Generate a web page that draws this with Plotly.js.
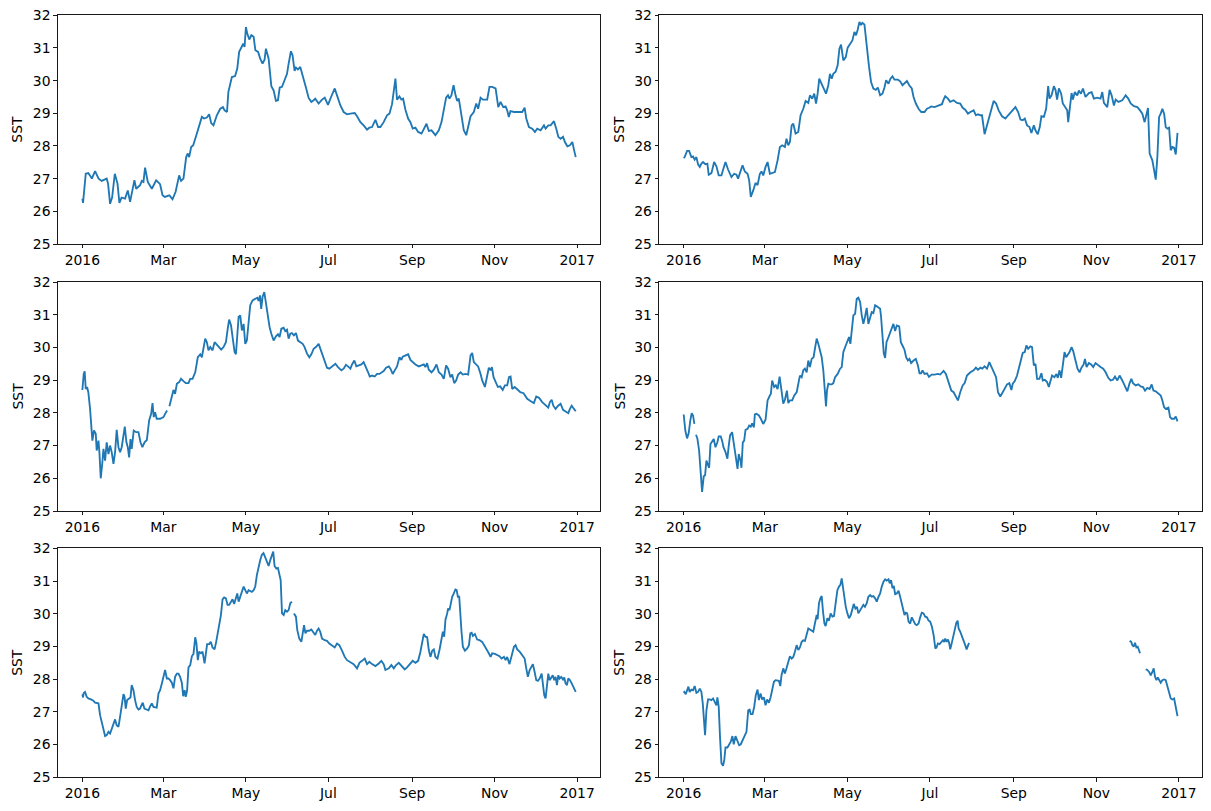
<!DOCTYPE html>
<html>
<head>
<meta charset="utf-8">
<script src="https://cdn.plot.ly/plotly-3.0.1.min.js"></script>
<style>html,body{margin:0;padding:0;background:#fff;}#chart{width:1211px;height:811px;}</style>
</head>
<body>
<div id="chart"></div>
<script>
// Tick labels for the date axes
const tickLabels = ['2016', 'Mar', 'May', 'Jul', 'Sep', 'Nov', '2017'];
const yTicks = [25, 26, 27, 28, 29, 30, 31, 32];
const yLabel = 'SST';

// Observations per panel: [day of year 2016 (0 = Jan 1), SST]; null = missing data
const obs1 = [[0,26.39],[0.5,26.26],[2.5,27.15],[4.4,27.17],[5.6,27.1],[7,27.0],[9.4,27.23],[12,27.0],[14.3,26.93],[18,27.0],[19,26.85],[20.5,26.23],[22,26.42],[24,27.15],[26,26.85],[27.4,26.26],[29,26.42],[31.6,26.39],[33.6,26.64],[35.3,26.29],[37,26.64],[38.5,26.95],[39.8,26.69],[42.7,26.8],[44,26.93],[45.2,26.9],[46.4,27.34],[48.4,26.9],[51.4,26.69],[54.6,26.95],[57.5,26.83],[59.3,26.49],[61,26.44],[64.4,26.49],[66.7,26.37],[69,26.6],[71.6,27.1],[73,26.93],[74.8,27.0],[76.8,27.66],[78,27.77],[79,27.66],[80.5,27.97],[82,28.02],[84.7,28.38],[87,28.68],[88.4,28.89],[90,28.84],[92.1,28.87],[93.8,28.97],[95.3,28.7],[97,28.63],[99.5,28.94],[102,29.14],[104,29.19],[105.2,29.09],[107,29.04],[108,29.65],[110.6,30.11],[113,30.14],[114.6,30.37],[116,30.88],[118,31.03],[119,31.13],[120,31.03],[121,31.64],[122,31.44],[123.5,31.26],[125,31.39],[126.7,31.34],[128,30.93],[130,30.88],[131.6,30.67],[133.3,30.52],[134.8,30.64],[135.8,30.98],[137.8,30.67],[139.8,29.83],[141.5,29.7],[143.2,29.38],[144.7,29.4],[146,29.79],[147.7,29.81],[149.6,30.01],[151.4,30.21],[152.6,30.52],[154.3,30.9],[155.5,30.78],[157,30.3],[158,30.4],[159.5,30.34],[161.2,30.42],[163.7,29.99],[165.4,29.79],[167.4,29.47],[169.4,29.35],[171.1,29.4],[172.3,29.45],[174.8,29.3],[177.3,29.42],[179.3,29.48],[181.7,29.26],[184,29.5],[186.7,29.76],[188.4,29.55],[190.9,29.24],[193.3,29.04],[195.8,28.97],[198.3,28.99],[201.5,29.01],[203.2,28.91],[205.7,28.73],[208.1,28.63],[210.6,28.5],[212.3,28.56],[214.3,28.58],[216.8,28.8],[218.8,28.58],[220.5,28.58],[222.9,28.73],[225.4,28.94],[227.2,28.99],[229.1,29.28],[230.4,29.7],[231.6,30.06],[232.8,29.42],[234.6,29.52],[236,29.42],[237.3,29.45],[239,29.11],[241,28.84],[242.7,28.73],[244.4,28.53],[246.4,28.56],[248.4,28.43],[250.9,28.38],[252.6,28.53],[254.6,28.68],[256.3,28.46],[258.3,28.48],[261.2,28.33],[263.7,28.48],[265.7,28.73],[267.4,29.09],[269.1,29.48],[270.5,29.55],[271.6,29.45],[273,29.55],[274.6,29.86],[276.1,29.55],[277.3,29.38],[278.5,29.45],[280.5,28.89],[282.2,28.48],[284,28.33],[285.9,28.68],[287.2,28.91],[289.6,29.04],[291.4,29.3],[292.8,29.14],[294.6,29.48],[296.3,29.42],[299.5,29.42],[301.2,29.81],[303.2,29.81],[305.7,29.76],[307,29.45],[307.7,29.19],[309.4,29.35],[311.4,29.19],[313.1,29.21],[314.3,29.09],[315.5,28.89],[316.7,29.07],[319.3,29.04],[323,29.04],[325.4,29.04],[327.2,29.17],[328.4,28.84],[330.4,28.58],[332.8,28.53],[334.8,28.43],[336.5,28.53],[339,28.48],[341.5,28.63],[342.7,28.53],[344.7,28.63],[346.4,28.63],[348.9,28.76],[350.6,28.53],[352.1,28.28],[353.8,28.22],[355.6,28.28],[357,28.12],[358.8,27.99],[360.7,28.02],[362.5,28.12],[363.7,27.89],[365,27.66]];

const obs2 = [[0,27.63],[0.7,27.66],[2.5,27.85],[4,27.85],[5.7,27.66],[6.9,27.68],[8.1,27.58],[9.4,27.66],[10.6,27.44],[11.9,27.36],[13.1,27.46],[14.3,27.51],[16,27.44],[17.5,27.46],[18.5,27.12],[20.5,27.17],[22.5,27.51],[24.2,27.38],[25.9,27.1],[27.9,27.1],[29,27.26],[30.9,27.51],[32.8,27.28],[35.3,27.05],[37.3,27.15],[39,27.12],[40.2,27.0],[42,27.2],[43.5,27.41],[45.2,27.22],[47.2,27.15],[48.4,26.95],[49.6,26.44],[51.4,26.64],[53.1,26.87],[54.6,26.8],[56.3,27.15],[57.5,27.22],[58.8,27.1],[60.5,27.36],[62,27.51],[63.7,27.15],[65.4,27.17],[67.4,27.2],[69.4,27.56],[71.1,27.97],[72.8,28.02],[74.8,27.97],[76,28.22],[77.3,28.02],[78.5,28.12],[79.8,28.63],[81,28.68],[82.7,28.38],[84.7,28.43],[86.4,28.94],[88.4,29.14],[90.1,29.38],[92.1,29.32],[93.3,29.55],[95,29.45],[96.5,29.6],[97.8,29.3],[99,29.6],[100.2,30.06],[102,29.91],[103.2,29.79],[105.2,29.6],[106.9,29.86],[108.1,30.21],[109.4,30.06],[110.6,30.21],[112.3,30.27],[113.8,30.47],[115.1,30.98],[116.3,31.1],[118,30.62],[119.8,30.72],[121.2,31.01],[123,31.13],[124.7,31.23],[126.2,31.49],[127.4,31.39],[128.6,31.56],[129.9,31.8],[131,31.7],[132,31.77],[133.6,31.72],[135.3,31.03],[137,30.42],[138.5,29.96],[140.2,29.76],[142,29.72],[143.5,29.79],[145.2,29.55],[146.9,29.6],[148.4,29.79],[149.6,30.01],[151.4,29.91],[152.8,30.06],[154.3,30.13],[155.8,30.03],[158.3,30.03],[160,29.98],[161.7,29.86],[163.2,29.93],[165,29.99],[166.7,29.86],[168.6,29.76],[169.9,29.5],[171.6,29.3],[173.6,29.14],[175.6,29.04],[178,29.04],[179.8,29.14],[181.5,29.17],[183,29.21],[185.4,29.19],[187.9,29.24],[190.9,29.28],[192.1,29.42],[193.3,29.52],[195.3,29.45],[197,29.35],[199.5,29.4],[202,29.32],[204.4,29.3],[206.2,29.17],[208.1,29.11],[210.1,28.99],[211.9,29.04],[214.3,29.09],[216,28.94],[217.5,28.97],[219.3,28.94],[220.5,28.94],[222.4,28.36],[224.2,28.63],[226.7,28.99],[229.1,29.38],[230.9,29.3],[232.8,29.09],[235.3,28.91],[237.8,28.84],[239.8,28.94],[242.2,29.04],[245.2,29.19],[247.2,29.04],[248.9,28.81],[250.6,28.79],[252.1,28.84],[253.8,28.63],[255.6,28.58],[257,28.4],[258.8,28.63],[260,28.48],[261.7,28.36],[263.2,28.58],[264.4,28.91],[266.2,28.89],[267.9,29.14],[269.4,29.83],[270.4,29.45],[271.9,29.55],[273.6,29.83],[274.8,29.72],[276,29.42],[277.3,29.76],[279,29.6],[280.2,29.3],[281.7,29.19],[283.5,29.09],[284.2,28.73],[285.2,29.09],[286.7,29.62],[287.7,29.42],[289.1,29.65],[290.9,29.55],[292.1,29.7],[293.6,29.6],[295.1,29.76],[297,29.5],[299.5,29.62],[301.5,29.65],[303.2,29.45],[305.7,29.48],[308.1,29.45],[309.4,29.65],[310.6,29.32],[313.1,29.19],[314.8,29.72],[316.3,29.55],[318,29.24],[319.3,29.42],[321.3,29.35],[324.2,29.4],[326.7,29.55],[328.6,29.45],[330.4,29.3],[332.8,29.22],[335.3,29.19],[337.3,29.09],[339,28.99],[340.7,28.73],[342,28.99],[343.2,29.16],[344.4,27.77],[346.4,27.56],[347.7,27.26],[348.9,26.97],[350.1,27.66],[351.4,28.89],[352.6,28.99],[353.8,29.14],[355.1,28.99],[356.3,28.58],[357.5,28.53],[358.8,28.56],[360,27.87],[361.2,27.97],[362.5,27.95],[363.7,27.74],[365,28.4]];

const obs3 = [[0,28.7],[0.5,28.99],[1,29.19],[1.7,29.27],[2.5,28.73],[3.5,28.79],[4.4,28.63],[5.7,28.12],[6.4,27.66],[7.4,27.15],[8.6,27.46],[9.9,27.36],[10.6,26.85],[11.9,27.15],[12.6,26.8],[13.6,26.0],[14.8,26.49],[15.6,26.9],[16.8,26.54],[18,27.1],[19.3,26.74],[20.5,27.0],[21.7,26.8],[23,26.44],[24.2,26.8],[25.4,27.48],[26.7,26.95],[27.9,26.8],[29.1,26.95],[30.4,27.31],[31.4,27.58],[32.6,27.1],[33.6,26.95],[34.6,26.64],[35.6,27.2],[36.5,26.9],[38,27.46],[39.8,27.41],[41.5,27.41],[43,27.1],[44.4,26.95],[46,27.1],[47.7,27.17],[49.4,27.77],[50.9,27.97],[51.9,28.3],[52.8,27.87],[53.8,28.02],[55,27.82],[57.5,27.82],[60,27.87],[61.2,27.97],[62.7,28.07],[63.5,null],[64.4,28.2],[65.7,28.43],[67.4,28.7],[68.6,28.58],[69.9,28.89],[71.6,28.94],[73,29.04],[74.8,28.97],[76.5,28.91],[78.5,28.91],[79.8,29.04],[81.5,29.04],[83.5,29.24],[85.4,29.7],[87.2,29.79],[88.4,29.7],[89.6,29.96],[90.9,30.27],[92.1,30.16],[93.3,29.91],[94.6,30.01],[96.3,29.91],[97.8,30.16],[99,30.11],[100.7,30.01],[102.7,29.93],[104.4,30.01],[106.2,30.16],[107.7,30.62],[108.6,30.85],[110,30.67],[111.4,30.27],[112.6,29.86],[113.6,29.79],[114.6,30.42],[115.6,30.93],[116.8,30.98],[118,30.52],[119.3,30.72],[120.5,30.11],[121.7,30.21],[123,30.78],[124.2,31.29],[125.9,31.44],[127.9,31.49],[129.4,31.52],[130.4,31.42],[131.4,31.59],[132.3,31.18],[133.3,31.54],[134.6,31.69],[135.8,31.34],[137.3,30.88],[138.5,30.62],[139.8,30.42],[141.5,30.21],[143.2,30.34],[144.7,30.4],[145.9,30.32],[147.2,30.57],[148.9,30.6],[150.1,30.5],[151.4,30.54],[152.6,30.27],[153.8,30.42],[155,30.44],[156.5,30.37],[158,30.44],[159.5,30.21],[161.2,30.16],[163,30.11],[164.4,30.01],[166.2,29.81],[167.9,29.7],[169.4,29.79],[171.1,29.96],[172.8,30.01],[174.8,30.11],[176,29.96],[177.3,29.79],[179.3,29.55],[181,29.38],[182.7,29.35],[184.7,29.42],[187.2,29.5],[189.1,29.4],[191.6,29.3],[193.3,29.35],[195,29.47],[196.5,29.42],[198.3,29.35],[199.5,29.48],[201.2,29.6],[202.7,29.42],[204.4,29.45],[206.4,29.48],[208.1,29.55],[209.9,29.4],[211.4,29.24],[212.6,29.11],[214.3,29.14],[216.3,29.11],[218,29.19],[219.8,29.19],[221.2,29.24],[222.9,29.28],[224.7,29.38],[226.7,29.42],[227.9,29.35],[229.6,29.19],[231.1,29.3],[232.8,29.42],[234.6,29.7],[236,29.62],[237,29.72],[239,29.76],[241,29.79],[242.7,29.62],[244.4,29.55],[246.4,29.48],[248.9,29.42],[250.9,29.45],[252.6,29.48],[253.8,29.4],[255,29.52],[256.3,29.32],[258.3,29.24],[260,29.32],[262,29.48],[263.7,29.24],[265.7,29.17],[267.4,29.04],[269.1,29.45],[270.6,29.35],[272.3,29.09],[273.6,29.17],[275.1,28.91],[276.5,28.99],[278,29.17],[279.8,29.24],[281.5,29.17],[283.5,29.19],[285.4,29.17],[287.2,29.76],[288.4,29.83],[289.6,29.55],[291.4,29.48],[292.8,29.42],[294.6,29.19],[295.8,28.99],[297.8,28.79],[299.5,29.09],[300.7,29.38],[302,29.3],[303,29.4],[304.2,29.09],[306,28.89],[307.4,28.79],[309.1,28.81],[311,28.7],[312.6,28.84],[314.3,28.84],[315.6,29.09],[316.8,29.11],[318,28.73],[319.8,28.79],[321.5,28.73],[324,28.63],[326.4,28.6],[329.1,28.43],[331.5,28.36],[334,28.3],[335.8,28.5],[337.8,28.46],[340.2,28.33],[342.7,28.22],[344.7,28.16],[345.9,28.33],[347.2,28.4],[348.4,28.22],[350.1,28.12],[352,28.22],[353.8,28.28],[355.6,28.09],[357.5,28.05],[359.5,27.99],[360.7,28.12],[362,28.22],[363.7,28.12],[365,28.05]];

const obs4 = [[0,27.95],[0.5,27.58],[1.2,27.46],[2.5,27.22],[3.7,27.38],[4.9,27.77],[5.9,27.99],[6.9,27.92],[7.9,27.66],[8.5,null],[9.1,27.33],[10.1,27.22],[11.4,26.85],[12.3,26.19],[13.6,25.58],[14.8,26.06],[15.8,26.09],[16.8,26.54],[18,26.39],[18.8,26.32],[19.8,27.05],[21.2,27.15],[22.2,27.2],[23.5,26.95],[24.9,27.1],[25.9,27.28],[27.4,27.28],[28.4,27.15],[29.4,26.95],[30.9,26.8],[32.3,26.6],[33.3,27.0],[34.3,27.31],[35.8,27.41],[37.3,26.95],[38.5,26.64],[39.8,26.29],[40.7,26.74],[42,26.54],[42.7,26.32],[43.7,27.1],[44.7,27.15],[45.7,27.48],[47.2,27.51],[48.4,27.61],[49.6,27.58],[50.6,27.68],[51.9,27.56],[52.6,27.95],[53.8,27.97],[55.6,27.92],[57,27.82],[58.8,27.66],[60.5,27.79],[62,28.38],[63.7,28.53],[64.4,28.58],[65.4,28.99],[66.9,28.79],[68.1,28.84],[69.4,28.73],[70.9,29.11],[72.1,28.79],[73.6,28.28],[74.8,28.4],[76.3,28.68],[77.3,28.3],[78.5,28.38],[80.2,28.38],[81.7,28.53],[83.5,28.63],[84.7,28.84],[85.9,29.14],[87.2,29.09],[88.4,29.3],[89.6,29.35],[90.9,29.24],[92.1,29.6],[93.3,29.4],[94.6,29.65],[96,29.7],[97,29.96],[98.3,30.27],[99.5,30.11],[100.7,29.86],[102,29.7],[103.2,29.3],[104.4,28.58],[105.2,28.2],[105.9,28.68],[106.9,28.89],[108.1,28.87],[109.4,28.87],[110.6,28.91],[111.9,29.09],[113.8,29.19],[115.6,29.35],[116.8,29.4],[118,29.86],[119.8,30.06],[121.2,30.21],[122.2,30.32],[123.2,30.11],[124.2,30.62],[125.4,30.98],[126.7,31.03],[127.9,31.49],[129.1,31.52],[130.4,31.39],[131.6,30.98],[132.8,30.72],[134,30.93],[135.3,31.21],[136.5,30.72],[137.8,30.95],[139,31.08],[140.2,31.05],[141.5,31.29],[142.7,31.26],[144,31.23],[145.2,31.18],[145.9,30.93],[146.9,30.42],[147.9,29.81],[148.9,29.68],[149.9,30.16],[151.4,30.32],[152.6,30.47],[153.8,30.6],[155,30.72],[156.3,30.5],[157.5,30.67],[159.3,30.64],[160.5,30.16],[161.7,30.06],[163.2,29.93],[164.4,29.7],[165.7,29.6],[166.9,29.65],[168.1,29.52],[169.9,29.6],[171.6,29.65],[173.1,29.45],[174.3,29.21],[175.5,29.21],[176.5,29.3],[178,29.19],[179.8,29.21],[181.3,29.1],[183.2,29.17],[185.4,29.17],[187.9,29.19],[189.6,29.17],[192.1,29.28],[193.8,29.19],[195.8,28.94],[197.8,28.68],[199.5,28.63],[201.2,28.5],[202.7,28.38],[204.4,28.63],[206.2,28.84],[207.7,28.91],[209.4,29.14],[211.9,29.24],[214.3,29.3],[216,29.38],[217.5,29.32],[219.3,29.38],[220.7,29.35],[222.4,29.42],[224.2,29.35],[225.9,29.55],[227.4,29.42],[229.1,29.24],[230.9,29.09],[232.3,28.63],[234,28.5],[235.8,28.63],[237.3,28.73],[239,28.87],[240.7,28.91],[242.2,28.7],[243.2,28.89],[244.7,28.97],[246.4,29.14],[247.7,29.38],[248.9,29.6],[250.6,29.83],[252.1,29.86],[253.3,30.06],[254.6,29.96],[256.3,30.03],[257.5,30.01],[258.8,29.45],[260,29.5],[261.2,29.04],[262.9,29.04],[264.4,29.21],[265.4,28.99],[266.9,29.01],[268.6,28.94],[269.9,28.79],[271.1,28.97],[272.3,29.14],[274,29.09],[275.5,29.19],[276.5,29.07],[277.8,29.3],[279,29.07],[280.2,29.5],[281.5,29.86],[282.7,29.7],[284,29.79],[285.2,29.86],[286.7,30.01],[287.9,29.89],[289.6,29.6],[291.1,29.35],[292.6,29.24],[294,29.38],[295.6,29.48],[296.6,29.65],[297.8,29.4],[299.5,29.52],[301.2,29.48],[302.7,29.4],[304.4,29.52],[306.2,29.45],[308.1,29.4],[310.1,29.35],[311.9,29.24],[313.8,29.07],[315.6,28.99],[317.3,29.01],[318.8,29.11],[320.5,28.99],[322.2,29.14],[324.2,28.99],[326.2,28.81],[327.9,28.66],[329.6,28.91],[330.9,29.04],[332.1,28.91],[334.1,28.84],[336,28.87],[337.8,28.81],[339.5,28.79],[341,28.68],[342.7,28.76],[344.4,28.73],[345.9,28.87],[347.2,28.68],[348.9,28.66],[350.9,28.58],[352.6,28.53],[353.8,28.38],[355.1,28.17],[356.3,28.12],[358.3,28.16],[359.5,27.87],[360.7,27.82],[362.5,27.82],[363.7,27.89],[365,27.74]];

const obs5 = [[0,27.54],[0.5,27.44],[1,27.58],[2,27.61],[3.2,27.46],[4.4,27.41],[6.4,27.38],[8.1,27.34],[9.4,27.28],[10.6,27.26],[11.9,27.26],[13.1,26.9],[14.3,26.69],[15.6,26.49],[16.8,26.26],[18,26.29],[19.3,26.39],[20.5,26.34],[21.7,26.46],[23,26.64],[24.2,26.77],[25.4,26.59],[26.7,26.54],[27.9,26.85],[29.1,27.15],[30.4,27.54],[31.2,27.46],[32.1,27.1],[33.1,27.36],[34.6,27.41],[35.6,27.44],[36.5,27.82],[37.8,27.66],[39,27.36],[40.2,27.15],[41.5,27.07],[42.7,27.1],[44,27.23],[44.7,27.28],[45.9,27.1],[47.7,27.07],[48.9,27.05],[50.1,27.17],[51.4,27.26],[52.6,27.15],[53.8,27.15],[55,27.13],[56.3,27.56],[57.5,27.66],[58.8,27.87],[60,28.12],[61.2,28.28],[62.5,28.02],[63.7,28.02],[64.9,27.97],[66.2,27.89],[67.4,27.72],[68.6,28.07],[69.9,28.17],[71.1,28.17],[72.3,28.07],[73.6,27.89],[74.6,27.48],[75.6,27.66],[76.5,27.46],[77.5,27.66],[78.5,28.36],[79.8,28.43],[81,28.7],[82.2,28.77],[83.5,29.28],[84.4,29.09],[85.4,28.58],[86.4,28.84],[87.7,28.79],[88.9,28.84],[90.4,28.48],[91.4,28.79],[92.3,29.07],[93.8,29.07],[95,29.14],[96.3,28.97],[97.8,28.91],[99,29.14],[100.2,29.4],[101.5,29.65],[102.5,29.96],[103.7,30.44],[104.9,30.5],[106.2,30.47],[107.4,30.27],[108.6,30.27],[109.9,30.37],[111.1,30.44],[112.3,30.3],[113.6,30.52],[114.6,30.62],[115.6,30.37],[116.8,30.52],[118,30.64],[119.3,30.83],[120.5,30.72],[121.7,30.62],[123,30.72],[124.2,30.7],[125.4,30.67],[126.7,30.72],[127.9,30.83],[129.1,31.18],[130.4,31.44],[131.6,31.64],[132.8,31.8],[134,31.85],[135.3,31.72],[136.5,31.59],[137.8,31.46],[139,31.64],[140.2,31.8],[141.2,31.9],[142.2,31.46],[143.5,31.38],[144.7,31.4],[145.7,31.23],[146.7,31.03],[147.7,30.01],[148.9,29.96],[150.1,30.11],[151.4,30.06],[152.6,30.11],[153.8,30.32],[155,30.37],[155.7,null],[156.5,30.01],[158,29.91],[159,29.5],[160.5,29.24],[162,29.14],[163,29.4],[164,29.65],[165,29.4],[166.2,29.48],[167.9,29.48],[169.4,29.52],[171.1,29.42],[172.3,29.35],[173.6,29.48],[174.8,29.55],[176,29.45],[177.3,29.24],[179.3,29.19],[181,29.17],[182.7,29.09],[184.7,29.04],[186.7,28.97],[188.4,29.09],[190.1,29.04],[192.1,28.87],[194.1,28.68],[195.8,28.58],[198.3,28.53],[200.7,28.46],[203.2,28.33],[205,28.5],[206.9,28.56],[208.9,28.63],[210.6,28.46],[212.3,28.53],[214.3,28.46],[216.8,28.4],[219.3,28.48],[221.2,28.56],[222.9,28.46],[224.2,28.28],[226.7,28.33],[228.6,28.43],[230.4,28.33],[232.1,28.43],[234.1,28.5],[236,28.4],[238.5,28.3],[240.2,28.36],[242,28.46],[244.4,28.56],[246.4,28.5],[248.4,28.56],[250.1,28.84],[251.4,29.19],[252.6,29.38],[253.8,29.3],[255.1,29.28],[256.3,28.89],[257.5,28.68],[258.8,28.87],[260,28.91],[261.2,28.68],[262.7,28.63],[264.2,28.89],[265.7,29.19],[266.7,29.45],[267.7,29.3],[268.6,29.81],[269.9,30.01],[270.6,30.16],[271.6,30.11],[272.6,30.37],[273.6,30.52],[274.8,30.62],[276,30.74],[276.9,30.72],[277.8,30.52],[278.8,30.52],[279.5,30.01],[280.5,29.45],[281.5,28.99],[283,28.87],[284.7,28.94],[286,29.04],[287,29.4],[288,29.42],[288.9,29.32],[290.4,29.38],[292.1,29.21],[293.8,29.19],[295.8,29.14],[297.8,29.01],[299.5,28.89],[300.7,28.79],[302,28.68],[303.2,28.79],[305.2,28.77],[306.9,28.73],[308.6,28.7],[310.1,28.63],[311.9,28.68],[313.1,28.58],[314.3,28.68],[316,28.46],[317,28.63],[318,28.84],[319.3,28.99],[320.5,29.04],[321.7,28.91],[323.5,28.84],[325.4,28.73],[327.2,28.63],[328.4,28.33],[329.6,28.07],[330.9,28.28],[332.1,28.36],[333.3,28.46],[334.6,28.22],[335.8,27.97],[337,27.95],[338.3,28.02],[339.8,28.17],[340.7,27.87],[341.7,27.51],[342.7,27.41],[343.7,27.82],[344.7,28.17],[345.7,27.97],[346.9,28.07],[348,28.12],[349.1,27.97],[350.1,28.07],[351.1,27.82],[352.1,28.12],[353.1,28.02],[354.3,28.07],[355.6,27.99],[356.5,28.05],[357.5,27.87],[358.5,27.82],[359.5,28.02],[360.7,27.97],[362,27.87],[363.7,27.74],[365,27.61]];

const obs6 = [[0,27.58],[0.5,27.61],[1.5,27.54],[2.7,27.66],[3.5,27.77],[4.4,27.61],[5.7,27.68],[6.9,27.66],[8.1,27.79],[9.4,27.58],[10.6,27.61],[11.9,27.71],[13.1,27.61],[14.1,27.26],[15.1,26.49],[15.8,26.29],[16.8,27.05],[18,27.38],[19.3,27.38],[20.5,27.36],[21.7,27.41],[23,27.28],[24.2,27.2],[24.9,27.44],[25.9,27.15],[26.9,26.19],[27.9,25.43],[29.1,25.35],[30,25.53],[30.9,25.91],[32.3,25.91],[33.3,25.98],[34.8,26.09],[36,26.26],[37,26.01],[38.3,26.26],[39.8,26.13],[41,25.98],[42.2,26.01],[43.7,26.13],[45.2,26.26],[46.4,26.39],[47.7,27.05],[48.7,27.07],[49.6,26.93],[50.9,26.93],[52.1,27.15],[53.3,27.51],[54.6,27.68],[55.6,27.36],[56.8,27.56],[58,27.38],[59.3,27.44],[60.5,27.2],[61.7,27.38],[63,27.28],[64.2,27.44],[65.4,27.66],[66.7,27.92],[67.9,27.97],[69.1,27.95],[70.4,27.95],[71.4,27.79],[72.3,28.12],[73.6,28.33],[74.8,28.17],[76,28.33],[77.3,28.53],[78.5,28.7],[79.8,28.63],[81,28.68],[82.2,28.84],[83.5,29.04],[84.7,28.89],[85.9,28.97],[87.2,29.14],[88.4,29.19],[89.6,29.17],[90.9,29.4],[92.1,29.55],[93.3,29.52],[94.6,29.48],[95.8,29.45],[97,29.7],[98.3,29.96],[99,29.83],[100,30.32],[101,30.47],[102,30.54],[103,30.06],[104,29.7],[104.9,29.62],[106.2,29.86],[107.4,29.79],[108.6,30.01],[109.9,29.91],[111.1,29.93],[112.3,30.32],[113.6,30.72],[114.8,30.83],[115.8,30.88],[116.8,31.08],[117.5,30.88],[118.5,30.52],[119.8,30.21],[121,30.01],[122.2,29.86],[123.5,29.96],[124.7,30.16],[125.7,30.3],[126.9,30.16],[128.1,30.21],[129.1,30.01],[130.4,30.11],[131.6,30.16],[132.8,30.27],[134,30.21],[135.3,30.32],[136.5,30.52],[137.8,30.57],[139,30.52],[140.2,30.54],[141.5,30.47],[142.7,30.37],[144,30.52],[145.2,30.62],[146.4,30.83],[147.7,30.98],[148.9,31.05],[150.1,31.01],[151.4,31.05],[152.3,30.93],[153.3,31.03],[154.3,30.78],[155.3,30.85],[156.3,30.6],[157.5,30.62],[158.8,30.7],[160,30.52],[161.2,30.32],[162.5,30.16],[163.2,29.96],[164.2,30.03],[165.2,30.01],[166.2,29.76],[167.4,29.7],[168.6,29.89],[169.9,29.76],[171.1,29.68],[172.3,29.65],[173.6,29.7],[174.8,29.89],[176,30.03],[177.3,30.01],[178.5,29.91],[179.8,29.89],[181,29.79],[182.2,29.76],[183.5,29.6],[184.7,29.35],[186,28.94],[186.9,28.97],[187.9,29.09],[189.1,29.07],[190.4,29.14],[191.6,29.19],[192.5,29.14],[193.3,29.24],[194.3,29.14],[195.3,29.21],[196.2,29.11],[197,28.91],[197.8,29.04],[199,29.24],[200.2,29.48],[201.5,29.72],[202.5,29.79],[203.2,29.55],[204.4,29.45],[205.7,29.32],[206.9,29.19],[208.1,29.04],[209.1,28.91],[210.1,29.04],[210.9,29.11],[212,null],[329.6,29.17],[330.8,29.14],[331.6,29.04],[332.6,28.99],[333.6,29.11],[334.6,28.97],[335.6,28.99],[336.5,28.89],[337.3,28.79],[339,null],[341.5,28.3],[342.7,28.28],[344,28.22],[345.2,28.12],[346.4,28.22],[347.4,28.33],[348.4,28.07],[349.4,27.97],[350.4,28.05],[351.4,27.97],[352.6,27.89],[353.8,27.97],[355,27.99],[356.3,27.97],[357.5,27.77],[358.8,27.61],[360,27.41],[361.2,27.38],[362.5,27.41],[363.7,27.15],[365,26.87]];

const panels = [obs1, obs2, obs3, obs4, obs5, obs6];

const DAY = 86400000;
const t0 = Date.UTC(2016, 0, 1);
const tickVals = [Date.UTC(2016,0,1), Date.UTC(2016,2,1), Date.UTC(2016,4,1), Date.UTC(2016,6,1), Date.UTC(2016,8,1), Date.UTC(2016,10,1), Date.UTC(2017,0,1)];
const xRange = [t0 - 18.25 * DAY, t0 + 383.25 * DAY];

const W = 1211, H = 811;
const colDomains = [[57.7 / W, 600.4 / W], [659 / W, 1202.2 / W]];
const rowPx = [[15.3, 244], [282, 511], [548.3, 777.3]];
const rowDomains = rowPx.map(r => [1 - r[1] / H, 1 - r[0] / H]);

const font = {family: 'DejaVu Sans, sans-serif', size: 13.9, color: '#000'};

const traces = [];
const layout = {
  width: W, height: H,
  margin: {l: 0, r: 0, t: 0, b: 0},
  paper_bgcolor: '#fff', plot_bgcolor: '#fff',
  showlegend: false,
  font: font,
  annotations: []
};

panels.forEach((obs, i) => {
  const row = Math.floor(i / 2), col = i % 2;
  const n = i + 1;
  const xa = n === 1 ? 'x' : 'x' + n;
  const ya = n === 1 ? 'y' : 'y' + n;
  traces.push({
    type: 'scatter', mode: 'lines',
    x: obs.map(p => t0 + p[0] * DAY),
    y: obs.map(p => p[1]),
    xaxis: xa, yaxis: ya,
    line: {color: '#1f77b4', width: 1.85},
    connectgaps: false,
    hoverinfo: 'x+y'
  });
  const common = {
    showline: true, mirror: true, linecolor: '#000', linewidth: 0.9,
    ticks: 'outside', ticklen: 3.5, tickwidth: 0.9, tickcolor: '#000',
    showgrid: false, zeroline: false, tickfont: font, fixedrange: true
  };
  layout[n === 1 ? 'xaxis' : 'xaxis' + n] = Object.assign({}, common, {
    domain: colDomains[col], anchor: ya, type: 'date',
    range: xRange, tickmode: 'array', tickvals: tickVals, ticktext: tickLabels
  });
  layout[n === 1 ? 'yaxis' : 'yaxis' + n] = Object.assign({}, common, {
    domain: rowDomains[row], anchor: xa,
    range: [25, 32], tickmode: 'array', tickvals: yTicks, ticktext: yTicks.map(String)
  });
  layout.annotations.push({
    text: yLabel, xref: 'paper', yref: 'paper',
    x: (col === 0 ? 17 : 619) / W,
    y: (rowDomains[row][0] + rowDomains[row][1]) / 2,
    textangle: -90, showarrow: false, xanchor: 'center', yanchor: 'middle',
    font: font
  });
});

Plotly.newPlot('chart', traces, layout, {displayModeBar: false, staticPlot: true});
</script>
</body>
</html>
